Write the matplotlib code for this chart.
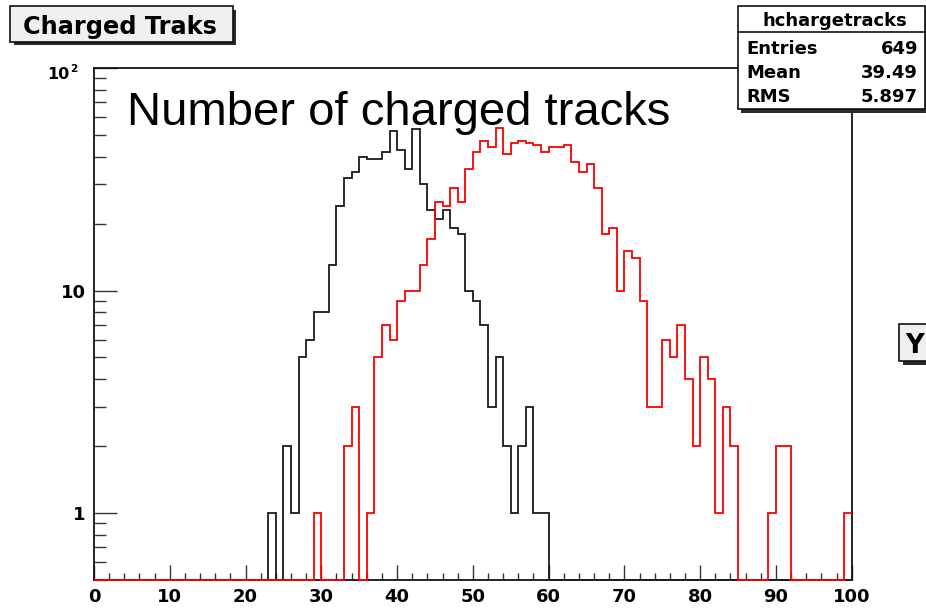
import numpy as np
import matplotlib
matplotlib.use("Agg")
import matplotlib.pyplot as plt
from matplotlib.patches import Rectangle
from matplotlib.lines import Line2D
from matplotlib.ticker import MultipleLocator, LogLocator, NullFormatter

# ---------------- data ----------------
bin_edges = list(range(0, 101))  # 100 bins of width 1, 0..100

black_counts = ([0] * 23 +
                [1, 0, 2, 1, 5, 6, 8, 8, 13, 24, 32, 34, 40, 39, 39, 42, 52, 43, 35,
                 53, 30, 23, 21, 23, 19, 18, 10, 9, 7, 3, 5, 2, 1, 2, 3, 1, 1] +
                [0] * 40)

red_counts = ([0] * 29 +
              [1, 0, 0, 0, 2, 3, 0, 1, 5, 7, 6, 9, 10, 10, 13, 17, 25, 24, 29, 25,
               35, 42, 47, 44, 54, 41, 46, 47, 46, 45, 42, 44, 44, 45, 38, 34, 37, 29,
               18, 19, 10, 15, 14, 9, 3, 3, 6, 5, 7, 4, 2, 5, 4, 1, 3, 2,
               0, 0, 0, 0, 1, 2, 2, 0, 0, 0, 0, 0, 0, 0, 1])

x_ticks = [0, 10, 20, 30, 40, 50, 60, 70, 80, 90, 100]
x_tick_labels = ["0", "10", "20", "30", "40", "50", "60", "70", "80", "90", "100"]
y_ticks = [1, 10, 100]
y_tick_labels = ["1", "10", ""]

title_text = "Charged Traks"
annotation = "Number of charged tracks"
stats_name = "hchargetracks"
stats_rows = ["Entries", "Mean", "RMS"]
stats_vals = ["649", "39.49", "5.897"]

# ---------------- figure ----------------
W, H = 926, 610
fig = plt.figure(figsize=(W / 100, H / 100), dpi=100)
fig.patch.set_facecolor("white")


def fx(x):
    return x / W


def fy(y):
    return 1 - y / H


ax_l, ax_r, ax_t, ax_b = 94, 851.7, 68, 580
ax = fig.add_axes([fx(ax_l), fy(ax_b), (ax_r - ax_l) / W, (ax_b - ax_t) / H])
ax.set_yscale("log")
ymin, ymax = 0.5, 100
ax.set_xlim(0, 100)
ax.set_ylim(ymin, ymax)

edges = np.array(bin_edges, dtype=float)
b = np.maximum(np.array(black_counts, dtype=float), ymin)
r = np.maximum(np.array(red_counts, dtype=float), ymin)
ax.stairs(b, edges, baseline=None, color="#1a1a1a", lw=1.3, clip_on=False, zorder=3)
ax.stairs(r, edges, baseline=None, color="#ff0000", lw=1.3, clip_on=False, zorder=4)

for s in ax.spines.values():
    s.set_color("#111111")
    s.set_linewidth(1.3)

ax.set_xticks(x_ticks)
ax.set_xticklabels(x_tick_labels)
ax.xaxis.set_minor_locator(MultipleLocator(2))
ax.set_yticks(y_ticks)
ax.set_yticklabels(y_tick_labels)
ax.yaxis.set_minor_locator(LogLocator(base=10, subs=[2, 3, 4, 5, 6, 7, 8, 9], numticks=20))
ax.yaxis.set_minor_formatter(NullFormatter())

for lab in ax.get_xticklabels() + ax.get_yticklabels():
    lab.set_fontfamily("DejaVu Sans")
    lab.set_fontweight("bold")
    lab.set_fontsize(13)

ax.tick_params(axis="x", which="major", direction="in", length=10.8, width=1.0,
               color="#333333", pad=6, top=False)
ax.tick_params(axis="x", which="minor", direction="in", length=5.3, width=1.0,
               color="#333333", top=False)
ax.tick_params(axis="y", which="major", direction="in", length=16.6, width=1.0,
               color="#333333", pad=6, right=False)
ax.tick_params(axis="y", which="minor", direction="in", length=8.6, width=1.0,
               color="#333333", right=False)

# 10^2 label at top of y axis
fig.text(fx(69.5), fy(79), "10", ha="right", va="baseline",
         family="DejaVu Sans", weight="bold", size=11.5)
fig.text(fx(70.5), fy(71.5), "2", ha="left", va="baseline",
         family="DejaVu Sans", weight="bold", size=7.5)

# annotation text
fig.text(fx(127), fy(125), annotation, ha="left", va="baseline",
         family="Liberation Sans", size=34, color="black")


def pave(x0, y0, x1, y1, face, shadow=3.5, z=10):
    sh = Rectangle((fx(x0 + shadow), fy(y1 + shadow)), (x1 - x0) / W, (y1 - y0) / H,
                   transform=fig.transFigure, facecolor="#2a2a2a", edgecolor="none",
                   zorder=z)
    bx = Rectangle((fx(x0), fy(y1)), (x1 - x0) / W, (y1 - y0) / H,
                   transform=fig.transFigure, facecolor=face, edgecolor="#111111",
                   lw=1.2, zorder=z + 1)
    fig.add_artist(sh)
    fig.add_artist(bx)


# title pave
pave(10, 6, 233, 41.7, "#f0f0f0")
fig.text(fx(23), fy(34), title_text, ha="left", va="baseline",
         family="DejaVu Sans", weight="bold", size=17.3, zorder=20)

# stats box
sx0, sy0, sx1, sy1 = 737.7, 6, 925, 109
pave(sx0, sy0, sx1, sy1, "white")
fig.add_artist(Line2D([fx(sx0), fx(sx1)], [fy(31.7), fy(31.7)],
                      transform=fig.transFigure, color="#111111", lw=1.2, zorder=20))
fig.text(fx(835), fy(26.5), stats_name, ha="center", va="baseline",
         family="DejaVu Sans", weight="bold", size=13, zorder=20)
for name, val, base in zip(stats_rows, stats_vals, [54, 78.5, 102.5]):
    fig.text(fx(746), fy(base), name, ha="left", va="baseline",
             family="DejaVu Sans", weight="bold", size=13, zorder=20)
    fig.text(fx(918), fy(base), val, ha="right", va="baseline",
             family="DejaVu Sans", weight="bold", size=13, zorder=20)

# partially visible "Y" pave at right edge
pave(899, 324, 940, 361, "#f0f0f0")
fig.text(fx(905.5), fy(353), "Y", ha="left", va="baseline",
         family="DejaVu Sans", weight="bold", size=18.5, zorder=20)

fig.savefig("out.png", dpi=100)
